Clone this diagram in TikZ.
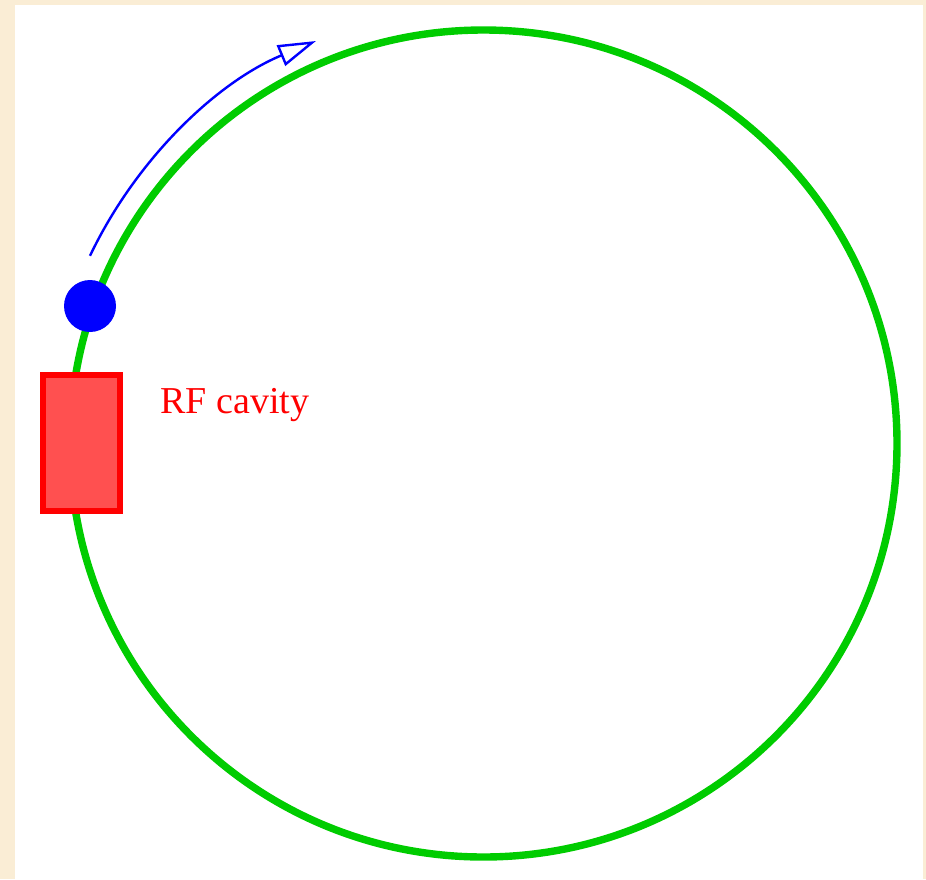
\documentclass[tikz,border=0pt]{standalone}
\usepackage{fontspec}
\setmainfont{Liberation Serif}
\usetikzlibrary{arrows.meta}
\definecolor{ring-green}{HTML}{00CC00}
\definecolor{cavity-red}{HTML}{FF0000}
\definecolor{cavity-fill}{HTML}{FF5050}
\definecolor{bunch-blue}{HTML}{0000FF}
\definecolor{parchment}{HTML}{FAEDD5}

\begin{document}
\begin{tikzpicture}[x=0.5pt, y=-0.5pt,
    cavity/.style={draw=cavity-red, fill=cavity-fill, line width=3pt,
      minimum width=38.5pt, minimum height=68pt, inner sep=0pt},
    bunch/.style={circle, fill=bunch-blue, minimum size=26pt, inner sep=0pt},
    cavitytext/.style={text=cavity-red, font=\fontsize{19pt}{22pt}\selectfont,
      anchor=base west, inner sep=0pt}]
    % ── page and white panel
    \useasboundingbox (0,0) rectangle (926,879);
    \fill[parchment] (0,0) rectangle (926,879);
    \fill[white] (15,5) rectangle (923,879);
    % ── ring
    \coordinate (ringc) at (483.5,443.5);
    \draw[ring-green, line width=3.7pt] (ringc) circle[radius=413.5];
    % ── direction of the bunch
    \draw[bunch-blue, line width=1.2pt, -{Triangle[open, length=19pt, width=11pt]}]
      (ringc) ++(205.5:436) arc[start angle=205.5, end angle=247.4, radius=436];
    % ── cavity and bunch
    \node[cavity] (cav) at (81.5,443) {};
    \node[cavitytext] (cavlabel) at (160,413) {RF cavity};
    \node[bunch] (bunch) at (90,306) {};
\end{tikzpicture}
\end{document}
